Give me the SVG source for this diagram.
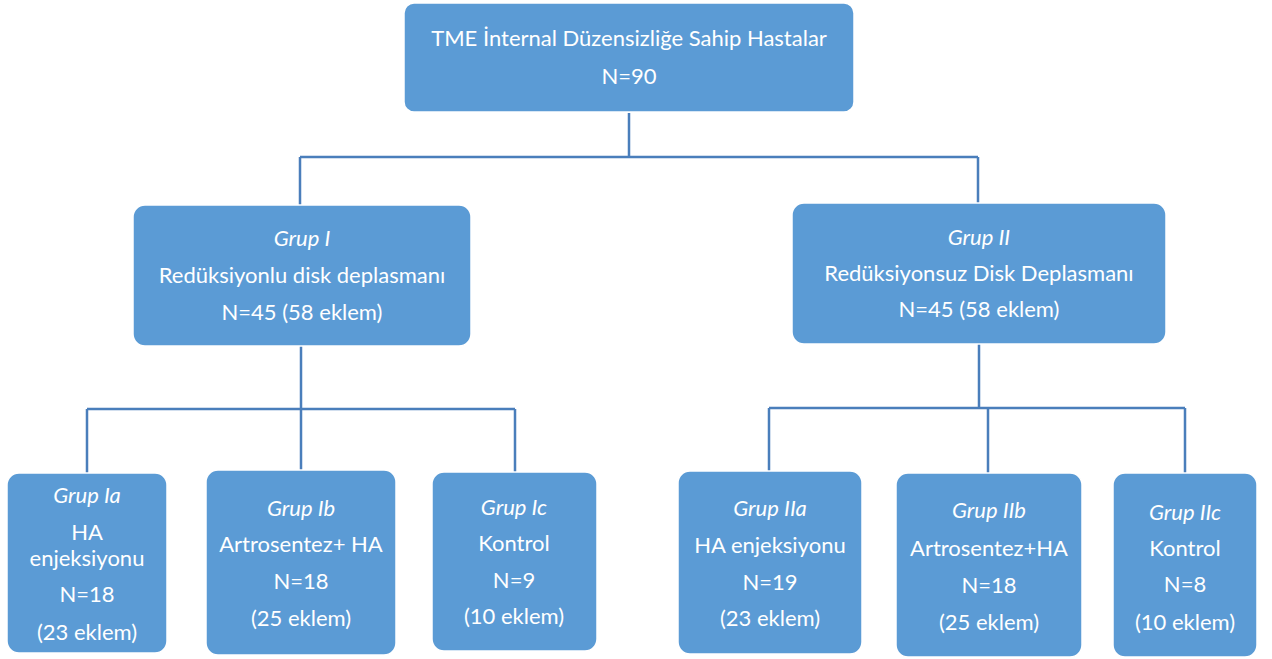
<svg xmlns="http://www.w3.org/2000/svg" width="1272" height="659" viewBox="0 0 1272 659">
<style>
.box{fill:#5b9bd5;stroke:#ffffff;stroke-width:1.5}
.t{font-family:Lato,"Open Sans","Liberation Sans",sans-serif;font-size:22px;fill:#ffffff;text-anchor:middle}
.i{font-style:italic}
.c{fill:none;stroke:#4a7ebb;stroke-width:2.5}
</style>
<rect width="1272" height="659" fill="#ffffff"/>
<g id="connectors">
<path class="c" d="M629 113V157M300 157H978M300 157V205M978 157V203"/>
<path class="c" d="M301 346V409M87 409H515M87 409V473M301 409V470M515 409V472"/>
<path class="c" d="M979 344V408M769 408H1185M769 408V471M988 408V473M1185 408V473"/>
</g>
<g id="n0"><rect class="box" x="404" y="3" width="450" height="109" rx="10"/>
<text class="t" x="629" y="46">TME İnternal Düzensizliğe Sahip Hastalar</text>
<text class="t" x="629" y="84">N=90</text></g>
<g id="n1"><rect class="box" x="133" y="205" width="338" height="141" rx="12"/>
<text class="t i" x="302" y="246">Grup I</text>
<text class="t" x="302" y="283">Redüksiyonlu disk deplasmanı</text>
<text class="t" x="302" y="320">N=45 (58 eklem)</text></g>
<g id="n2"><rect class="box" x="792" y="203" width="374" height="141" rx="12"/>
<text class="t i" x="979" y="245">Grup II</text>
<text class="t" x="979" y="281">Redüksiyonsuz Disk Deplasmanı</text>
<text class="t" x="979" y="317">N=45 (58 eklem)</text></g>
<g id="n3"><rect class="box" x="7" y="473" width="160" height="180" rx="12"/>
<text class="t i" x="87" y="503">Grup Ia</text>
<text class="t" x="87" y="540">HA</text>
<text class="t" x="87" y="566">enjeksiyonu</text>
<text class="t" x="87" y="602">N=18</text>
<text class="t" x="87" y="640">(23 eklem)</text></g>
<g id="n4"><rect class="box" x="206" y="470" width="190" height="185" rx="12"/>
<text class="t i" x="301" y="516">Grup Ib</text>
<text class="t" x="301" y="552">Artrosentez+ HA</text>
<text class="t" x="301" y="589">N=18</text>
<text class="t" x="301" y="626">(25 eklem)</text></g>
<g id="n5"><rect class="box" x="432" y="472" width="165" height="179" rx="12"/>
<text class="t i" x="514" y="515">Grup Ic</text>
<text class="t" x="514" y="551">Kontrol</text>
<text class="t" x="514" y="588">N=9</text>
<text class="t" x="514" y="624">(10 eklem)</text></g>
<g id="n6"><rect class="box" x="678" y="471" width="184" height="183" rx="12"/>
<text class="t i" x="770" y="516">Grup IIa</text>
<text class="t" x="770" y="553">HA enjeksiyonu</text>
<text class="t" x="770" y="590">N=19</text>
<text class="t" x="770" y="626">(23 eklem)</text></g>
<g id="n7"><rect class="box" x="896" y="473" width="186" height="184" rx="12"/>
<text class="t i" x="989" y="518">Grup IIb</text>
<text class="t" x="989" y="556">Artrosentez+HA</text>
<text class="t" x="989" y="593">N=18</text>
<text class="t" x="989" y="630">(25 eklem)</text></g>
<g id="n8"><rect class="box" x="1113" y="473" width="144" height="184" rx="12"/>
<text class="t i" x="1185" y="520">Grup IIc</text>
<text class="t" x="1185" y="556">Kontrol</text>
<text class="t" x="1185" y="592">N=8</text>
<text class="t" x="1185" y="630">(10 eklem)</text></g>
</svg>
